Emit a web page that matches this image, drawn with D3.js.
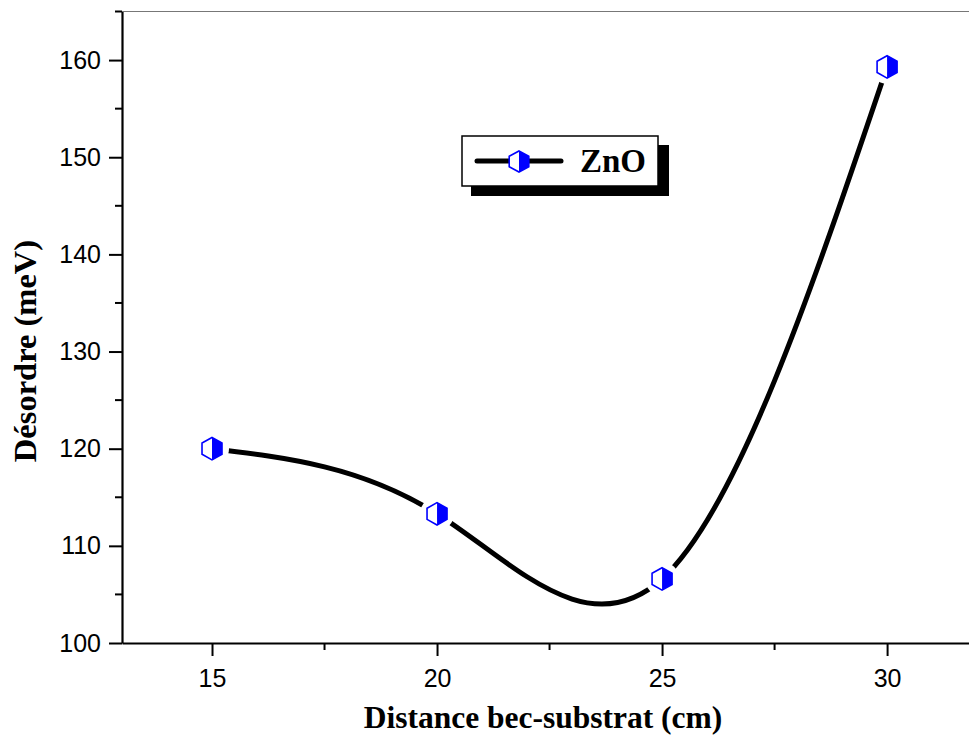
<!DOCTYPE html>
<html>
<head>
<meta charset="utf-8">
<script src="https://cdn.jsdelivr.net/npm/d3@7"></script>
<style>
  body { margin: 0; background: #fff; }
  .tick text { font-family: Arial, "Liberation Sans", sans-serif; font-size: 25px; fill: #000; }
  .lbl { font-family: "Times New Roman", "Liberation Serif", serif; font-weight: bold; fill: #000; }
</style>
</head>
<body>
<div id="chart"></div>
<script>
// data
var distances = [15, 20, 25, 30];
var desordre = [120, 113.3, 106.6, 159.3];
var yTicks = [100, 110, 120, 130, 140, 150, 160];
var xTicks = [15, 20, 25, 30];
var seriesName = "ZnO";

var svgWidth = 969;
var svgHeight = 743;

var svg = d3.select("#chart")
  .append("svg")
  .attr("width", svgWidth)
  .attr("height", svgHeight);

var x = d3.scaleLinear().domain([13, 31.82]).range([122, 969]);
var y = d3.scaleLinear().domain([100, 165]).range([643, 11.5]);

// top frame line
svg.append("line")
  .attr("x1", 122).attr("x2", 969)
  .attr("y1", y(165)).attr("y2", y(165))
  .attr("stroke", "#777").attr("stroke-width", 1);

// y axis
var yAxis = svg.append("g")
  .attr("transform", "translate(122,0)")
  .call(d3.axisLeft(y).tickValues(yTicks).tickSize(13).tickPadding(8).tickSizeOuter(0));
yAxis.select(".domain").attr("stroke-width", 2.2);
yAxis.selectAll(".tick line").attr("stroke-width", 2);

// y minor ticks
svg.append("g").selectAll("line")
  .data(d3.range(105, 166, 10))
  .enter().append("line")
  .attr("x1", 115).attr("x2", 122)
  .attr("y1", d => y(d)).attr("y2", d => y(d))
  .attr("stroke", "#000").attr("stroke-width", 2);

// x axis
var xAxis = svg.append("g")
  .attr("transform", "translate(0,643)")
  .call(d3.axisBottom(x).tickValues(xTicks).tickSize(13).tickPadding(13).tickSizeOuter(0));
xAxis.select(".domain").attr("stroke-width", 2.2);
xAxis.selectAll(".tick line").attr("stroke-width", 2);

svg.append("g").selectAll("line")
  .data([17.5, 22.5, 27.5])
  .enter().append("line")
  .attr("x1", d => x(d)).attr("x2", d => x(d))
  .attr("y1", 643).attr("y2", 650)
  .attr("stroke", "#000").attr("stroke-width", 2);

// curve
var pts = distances.map((d, i) => [d, desordre[i]]);
var line = d3.line()
  .x(d => x(d[0]))
  .y(d => y(d[1]))
  .curve(d3.curveNatural);

svg.append("path")
  .datum(pts)
  .attr("d", line)
  .attr("fill", "none")
  .attr("stroke", "#000")
  .attr("stroke-width", 5)
  .attr("stroke-linecap", "round");

// hexagon marker: left half open, right half filled
function hexPoints(w, h) {
  return [[0, -h], [w, -h / 2], [w, h / 2], [0, h], [-w, h / 2], [-w, -h / 2]];
}
function drawMarker(g, w, h, gap) {
  var hex = hexPoints(w, h);
  if (gap) g.append("circle").attr("r", gap).attr("fill", "#fff");
  g.append("polygon")
    .attr("points", hex.map(p => p.join(",")).join(" "))
    .attr("fill", "#fff");
  g.append("polygon")
    .attr("points", hex.slice(0, 4).map(p => p.join(",")).join(" "))
    .attr("fill", "#0000ff");
  g.append("polygon")
    .attr("points", hex.map(p => p.join(",")).join(" "))
    .attr("fill", "none")
    .attr("stroke", "#0000ff")
    .attr("stroke-width", 1.6);
}

svg.selectAll(".marker")
  .data(pts)
  .enter().append("g")
  .attr("class", "marker")
  .attr("transform", d => `translate(${x(d[0])},${y(d[1])})`)
  .each(function() { drawMarker(d3.select(this), 10, 11.2, 17); });

// legend
var lg = svg.append("g");
lg.append("rect").attr("x", 471).attr("y", 145).attr("width", 198).attr("height", 51).attr("fill", "#000");
lg.append("rect").attr("x", 462).attr("y", 136).attr("width", 196).attr("height", 50)
  .attr("fill", "#fff").attr("stroke", "#000").attr("stroke-width", 1.5);
lg.append("line").attr("x1", 477).attr("x2", 561).attr("y1", 161).attr("y2", 161)
  .attr("stroke", "#000").attr("stroke-width", 5).attr("stroke-linecap", "round");
drawMarker(lg.append("g").attr("transform", "translate(519,161.5)"), 9.8, 10.5, 0);
lg.append("text").attr("class", "lbl")
  .attr("x", 580).attr("y", 172)
  .style("font-size", "33px")
  .text(seriesName);

// axis labels
svg.append("text").attr("class", "lbl")
  .attr("x", 543).attr("y", 728)
  .attr("text-anchor", "middle")
  .style("font-size", "31.5px")
  .text("Distance bec-substrat (cm)");

svg.append("text").attr("class", "lbl")
  .attr("transform", "translate(36,351) rotate(-90)")
  .attr("text-anchor", "middle")
  .style("font-size", "32.5px")
  .text("Désordre (meV)");
</script>
</body>
</html>
